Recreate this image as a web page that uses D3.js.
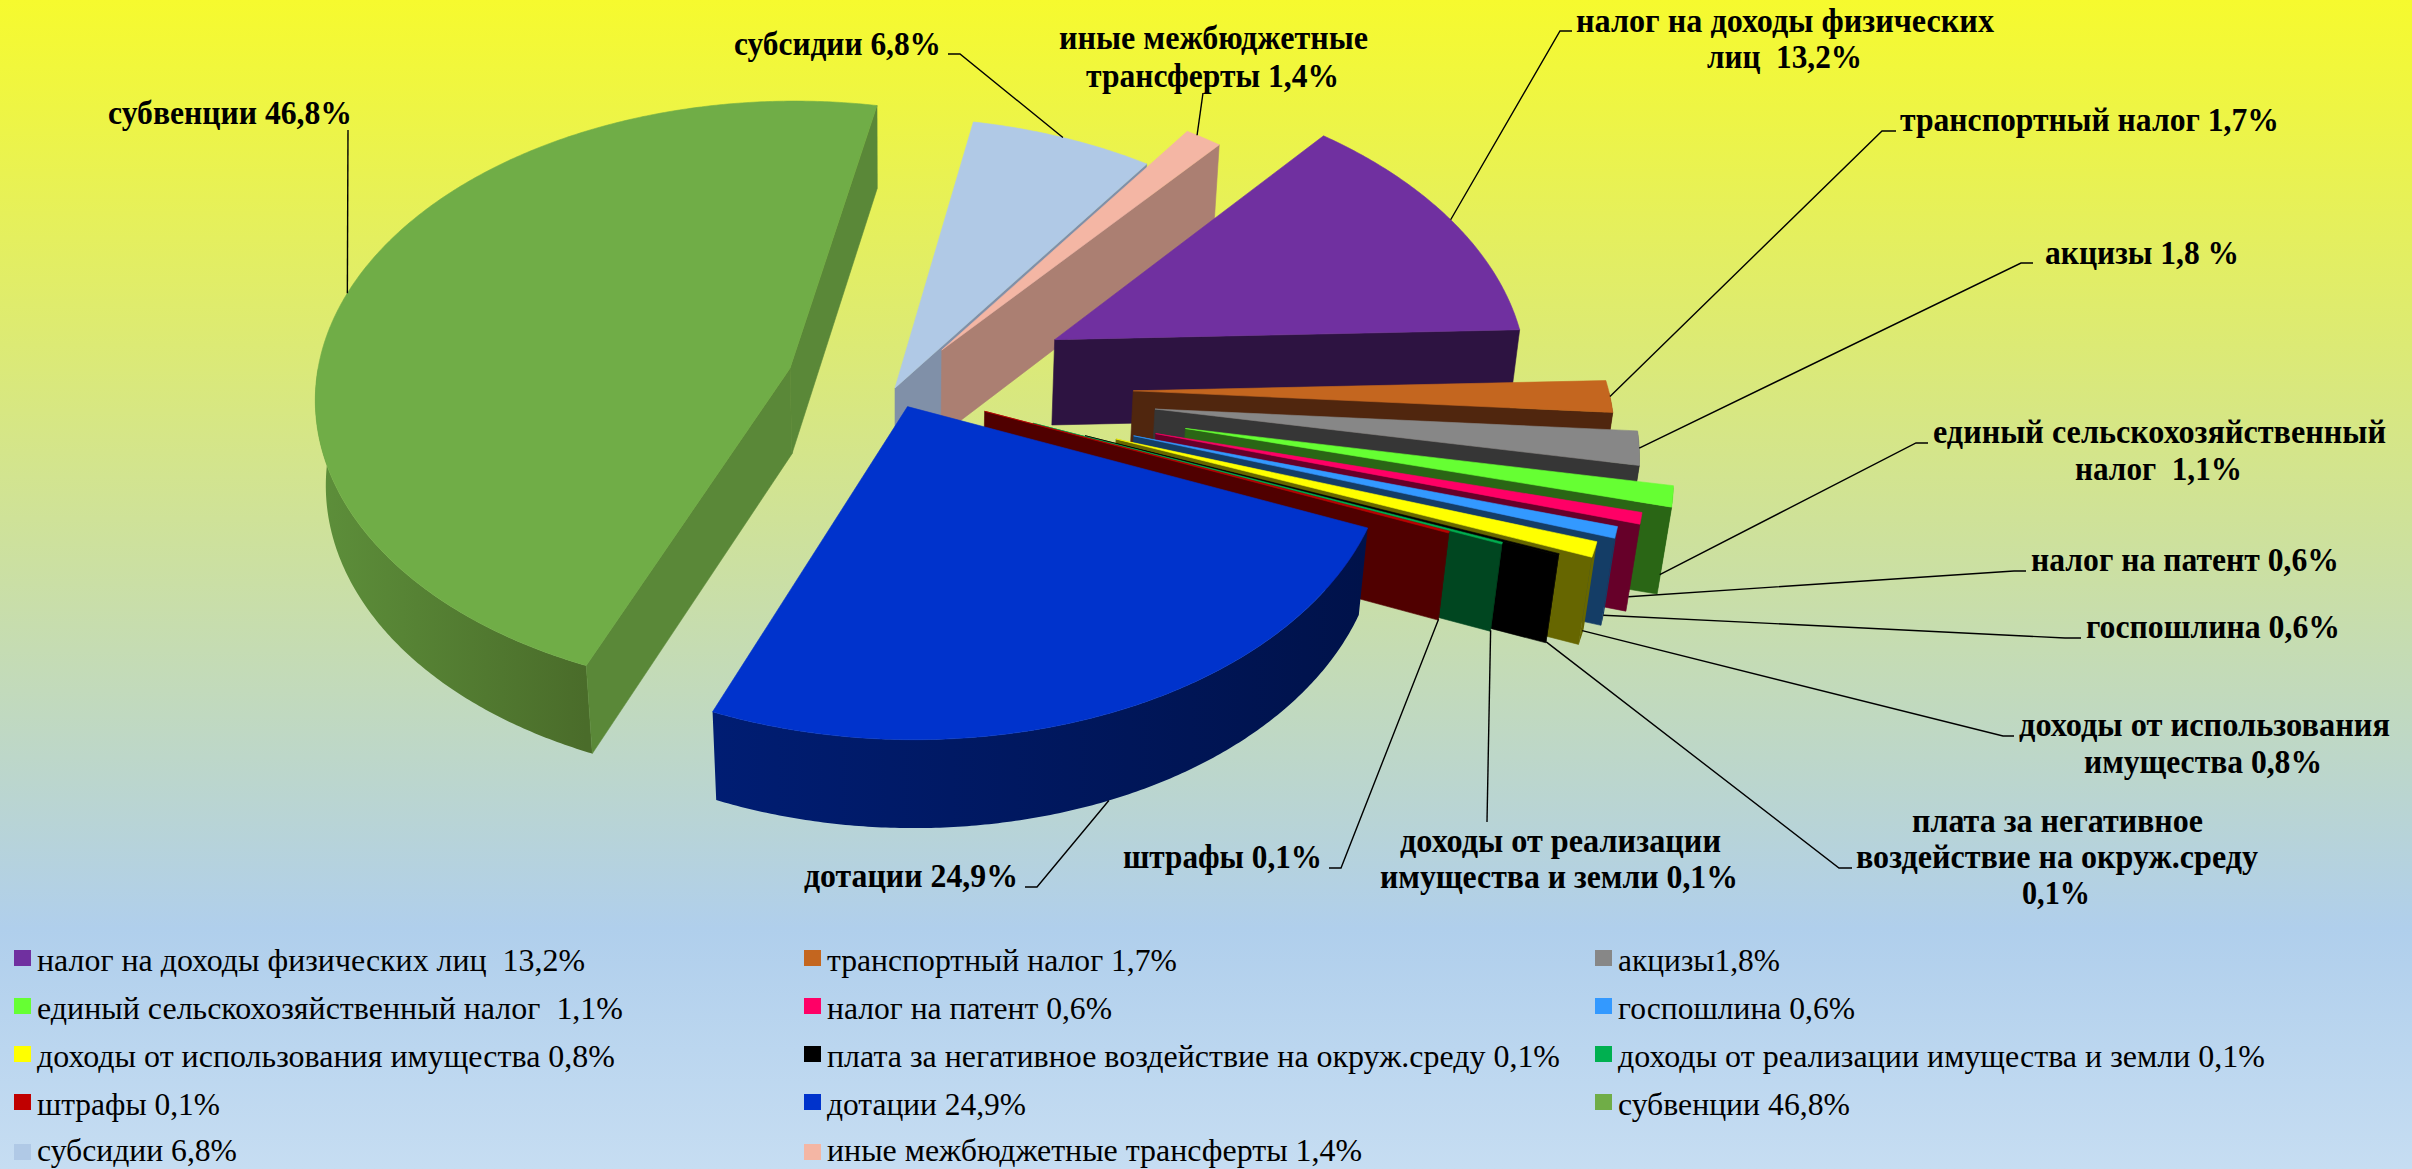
<!DOCTYPE html>
<html><head><meta charset="utf-8">
<script src="https://cdn.jsdelivr.net/npm/d3@7"></script>
<style>html,body{margin:0;padding:0;background:#fff;overflow:hidden}svg{display:block}text{font-family:"Liberation Serif",serif;fill:#000}</style>
</head><body><svg id="c" width="2412" height="1169"></svg>
<script>
// ---- data ----
const categories=["налог на доходы физических лиц","транспортный налог","акцизы","единый сельскохозяйственный налог","налог на патент","госпошлина","доходы от использования имущества","плата за негативное воздействие на окруж.среду","доходы от реализации имущества и земли","штрафы","дотации","субвенции","субсидии","иные межбюджетные трансферты"];
const values=[13.2,1.7,1.8,1.1,0.6,0.6,0.8,0.1,0.1,0.1,24.9,46.8,6.8,1.4];
const legendTexts=["налог на доходы физических лиц  13,2%","транспортный налог 1,7%","акцизы1,8%","единый сельскохозяйственный налог  1,1%","налог на патент 0,6%","госпошлина 0,6%","доходы от использования имущества 0,8%","плата за негативное воздействие на окруж.среду 0,1%","доходы от реализации имущества и земли 0,1%","штрафы 0,1%","дотации 24,9%","субвенции 46,8%","субсидии 6,8%","иные межбюджетные трансферты 1,4%"];
const legendWidths=[548,350,162,586,285,237,578,733,647,183,199,232,200,535];
const legendColors=["#7030A0","#C4661F","#878787","#66FF33","#FF0066","#3399FF","#FFFF00","#000000","#00B050","#C00000","#0033CC","#70AD47","#B0C9E6","#F4B6A4"];
const topColors=legendColors;
const cutColors=["#2D1341","#50260E","#363636","#2A6615","#660029","#143D66","#666600","#000000","#004620","#500000","#001452","#5A8838","#8090A8","#AB7F72"];
const rimColors=[["#2D1341","#2D1341"],["#50260E","#50260E"],["#363636","#363636"],["#2A6615","#2A6615"],["#660029","#660029"],["#143D66","#143D66"],["#666600","#666600"],["#000000","#000000"],["#004620","#004620"],["#500000","#500000"],["#00124A","#001D73"],["#4A6C2A","#5D8F3A"],["#8090A8","#8090A8"],["#AB7F72","#AB7F72"]];
const explosion=[181,238,260,293,266,246,231,201,147,96,32,110,0,78];
const paintOrder=[11,12,13,0,1,2,3,4,5,6,7,8,9,10];
const leaderDepth=[0,0,0,0.9,0.9,0.95,0.93,1,1,1,1,0,0,0];
const leaderAngle=[0,0,0,0,0,0,0,0,0,0,0,-1.5,0,-1];
// labels: slice index, lines [text, left x, width, baseline], elbow polyline starting at the label
const labels=[
 {i:0,lines:[["налог на доходы физических",1576,418,32],["лиц  13,2%",1707,155,68]],elbow:[[1572,31],[1560,31]]},
 {i:1,lines:[["транспортный налог 1,7%",1900,379,131]],elbow:[[1896,131],[1882,131]]},
 {i:2,lines:[["акцизы 1,8 %",2045,194,264]],elbow:[[2033,263],[2021,263]]},
 {i:3,lines:[["единый сельскохозяйственный",1933,453,443],["налог  1,1%",2075,167,480]],elbow:[[1928,443],[1916,443]]},
 {i:4,lines:[["налог на патент 0,6%",2031,308,571]],elbow:[[2026,571],[2014,571]]},
 {i:5,lines:[["госпошлина 0,6%",2086,254,638]],elbow:[[2081,638],[2065,638]]},
 {i:6,lines:[["доходы от использования",2019,371,736],["имущества 0,8%",2084,238,773]],elbow:[[2014,736],[2003,736]]},
 {i:7,lines:[["плата за негативное",1912,291,832],["воздействие на окруж.среду",1856,402,868],["0,1%",2022,68,904]],elbow:[[1852,868],[1839,868]]},
 {i:8,lines:[["доходы от реализации",1400,321,852],["имущества и земли 0,1%",1380,358,888]],elbow:[[1487,822]]},
 {i:9,lines:[["штрафы 0,1%",1123,199,868]],elbow:[[1329,868],[1341,868]]},
 {i:10,lines:[["дотации 24,9%",804,214,887]],elbow:[[1025,887],[1037,887]]},
 {i:11,lines:[["субвенции 46,8%",108,244,124]],elbow:[[348,130]]},
 {i:12,lines:[["субсидии 6,8%",734,207,55]],elbow:[[948,54],[960,54]]},
 {i:13,lines:[["иные межбюджетные",1059,309,49],["трансферты 1,4%",1086,253,87]],elbow:[[1203,93]]}
];
const legendCols=[14,804,1595], legendRows=[950,998,1046,1094,1144], legendBaselines=[971,1019,1067,1115,1161];

// ---- 3D pie view ----
const W=2412,H=1169,cx=895,cy=388,R=475,H3=112,sinE=.625,cosE=.78,Dist=3811,skew=.01;
const TAU=Math.PI*2,deg=Math.PI/180;
const project=(X,Y,Z)=>{const s=Dist/(Dist-Y*cosE-Z*sinE);return [cx+(X+skew*Y)*s,cy+(Y*sinE-Z*cosE)*s];};
const pie=d3.pie().sort(null).value(d=>d).startAngle(40.5*deg).endAngle(40.5*deg+TAU);
const arcs=pie(values).map((a,i)=>{const mid=(a.startAngle+a.endAngle)/2,e=explosion[i];
  return {a0:a.startAngle,a1:a.endAngle,mid,ox:e*Math.sin(mid),oy:-e*Math.cos(mid),i};});
const rimPt=(s,t,z)=>project(s.ox+R*Math.sin(t),s.oy-R*Math.cos(t),z);
const apex=(s,z)=>project(s.ox,s.oy,z);
const line=d3.line().curve(d3.curveLinearClosed);
const lineOpen=d3.line();

const svg=d3.select("#c");
const defs=svg.append("defs");
const g=defs.append("linearGradient").attr("id","bg").attr("x1",0).attr("y1",0).attr("x2",0).attr("y2",1);
[[0,"#F6FA2E"],[.795,"#B0CFEC"],[1,"#C6DDF2"]].forEach(s=>g.append("stop").attr("offset",s[0]).attr("stop-color",s[1]));
svg.append("rect").attr("width",W).attr("height",H).attr("fill","url(#bg)");

const poly=(pts,fill,layer)=>layer.append("path").attr("d",line(pts)).attr("fill",fill).attr("stroke",fill).attr("stroke-width",.6).attr("stroke-linejoin","round");
const pieG=svg.append("g");
paintOrder.forEach(i=>{
  const s=arcs[i],l=pieG.append("g");
  // front-facing rim, shaded along its span
  const ra=Math.max(s.a0,90*deg),rb=Math.min(s.a1,270*deg);
  if(rb>ra){
    const n=Math.max(1,Math.ceil((rb-ra)/(0.5*deg)));
    const ang=d3.range(n+1).map(k=>ra+(rb-ra)*k/n);
    const pts=[...ang.map(t=>rimPt(s,t,0)),...ang.slice().reverse().map(t=>rimPt(s,t,-H3))];
    const id="rim"+i;
    const lg=defs.append("linearGradient").attr("id",id).attr("gradientUnits","userSpaceOnUse")
      .attr("x1",rimPt(s,ra,0)[0]).attr("x2",rimPt(s,rb,0)[0]).attr("y1",0).attr("y2",0);
    lg.append("stop").attr("offset",0).attr("stop-color",rimColors[i][0]);
    lg.append("stop").attr("offset",1).attr("stop-color",rimColors[i][1]);
    l.append("path").attr("d",line(pts)).attr("fill","url(#"+id+")");
  }
  // radial cut faces
  const facing=t=>-Math.cos(t)>0;
  if(facing(s.a0-Math.PI/2)) poly([apex(s,0),rimPt(s,s.a0,0),rimPt(s,s.a0,-H3),apex(s,-H3)],cutColors[i],l);
  if(facing(s.a1+Math.PI/2)) poly([apex(s,0),rimPt(s,s.a1,0),rimPt(s,s.a1,-H3),apex(s,-H3)],cutColors[i],l);
  // top face
  const ts=d3.range(0,1.0001,1/Math.max(2,Math.ceil((s.a1-s.a0)/(0.5*deg)))).map(f=>rimPt(s,s.a0+(s.a1-s.a0)*f,0));
  poly([apex(s,0),...ts],topColors[i],l);
});

// data labels with leaders
const labG=svg.append("g");
labels.forEach(L=>{
  const s=arcs[L.i];
  const end=rimPt(s,s.mid+leaderAngle[L.i]*deg,-H3*leaderDepth[L.i]);
  labG.append("path").attr("d",lineOpen([...L.elbow,end])).attr("fill","none").attr("stroke","#000").attr("stroke-width",1.4);
  L.lines.forEach(t=>labG.append("text").attr("x",t[1]).attr("y",t[3]).attr("font-size",34).attr("font-weight","bold").attr("textLength",t[2]).attr("lengthAdjust","spacingAndGlyphs").style("white-space","pre").text(t[0]));
});

// legend
const legG=svg.append("g");
legendTexts.forEach((t,i)=>{
  const c=legendCols[i%3],r=Math.floor(i/3);
  legG.append("rect").attr("x",c).attr("y",legendRows[r]).attr("width",17).attr("height",16).attr("fill",legendColors[i]);
  legG.append("text").attr("x",c+23).attr("y",legendBaselines[r]).attr("font-size",31).attr("textLength",legendWidths[i]).attr("lengthAdjust","spacingAndGlyphs").style("white-space","pre").text(t);
});
</script></body></html>
